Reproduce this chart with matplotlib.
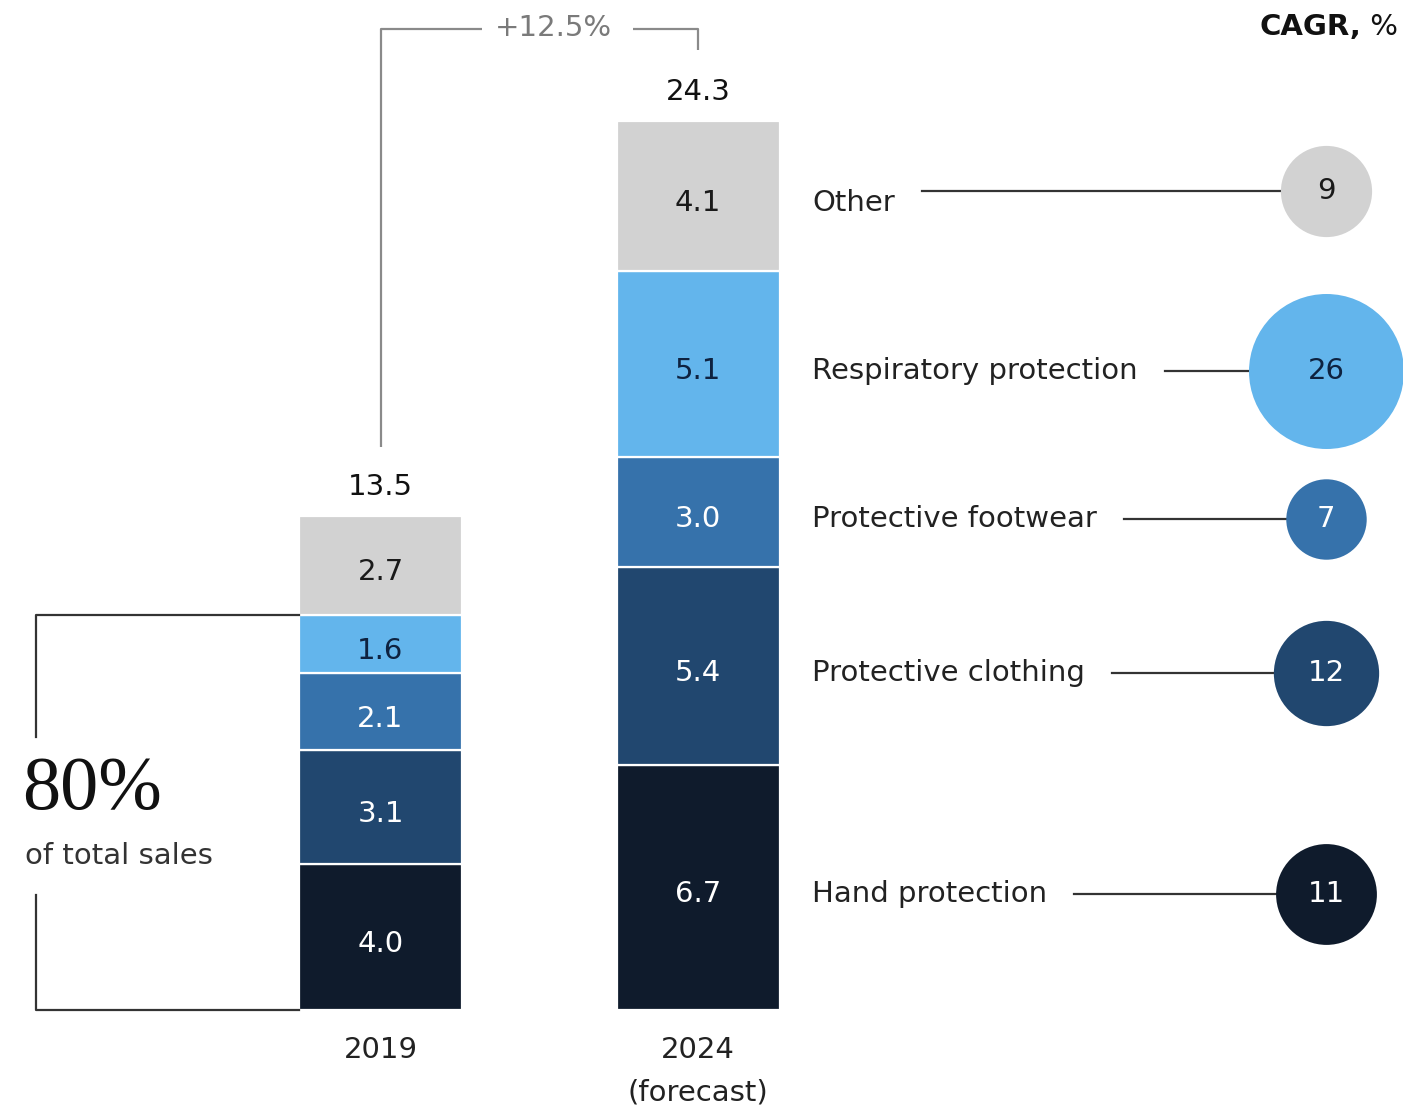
import matplotlib
matplotlib.use("Agg")
import matplotlib.pyplot as plt

# --- data -------------------------------------------------------------
categories = ["Hand protection", "Protective clothing", "Protective footwear",
              "Respiratory protection", "Other"]
year_labels = ["2019", "2024"]
year_notes = ["", "(forecast)"]
sales_2019 = [4.0, 3.1, 2.1, 1.6, 2.7]
sales_2024 = [6.7, 5.4, 3.0, 5.1, 4.1]
totals = [13.5, 24.3]
cagr = [11, 12, 7, 26, 9]
growth_label = "+12.5%"
share_value = "80%"
share_text = "of total sales"
cagr_title = "CAGR,"
cagr_unit = " %"

# --- styling ----------------------------------------------------------
seg_colors = ["#0f1b2c", "#21476f", "#3672ab", "#63b5ec", "#d2d2d2"]
seg_text = ["white", "white", "white", "#0e2240", "#1a1a1a"]
line_dark = "#333333"
line_grey = "#8a8a8a"
FS = 21

plt.rcParams["font.family"] = ["DejaVu Sans"]

W, H = 1403, 1111
fig = plt.figure(figsize=(W / 100, H / 100), dpi=100)
ax = fig.add_axes([0, 0, 1, 1])
ax.set_axis_off()

# vertical scale: value units, baseline at pixel row BASE
BASE = 1010.0
PX = 36.6  # pixels per unit
ax.set_xlim(0, W)
ax.set_ylim((BASE - H) / PX, BASE / PX)


def py(row):
    """pixel row (from top) -> value coordinate"""
    return (BASE - row) / PX


bar_x = [380.5, 698.0]
bar_w = 163
series = [sales_2019, sales_2024]
label_drop = 7 / PX

seg_centers = []
for xi, vals in zip(bar_x, series):
    bottom = 0.0
    centers = []
    for v, c, tc in zip(vals, seg_colors, seg_text):
        ax.bar(xi, v, bottom=bottom, width=bar_w, color=c,
               edgecolor="white", linewidth=1.6, zorder=2)
        ax.text(xi, bottom + v / 2 - label_drop, f"{v:.1f}", ha="center",
                va="center", fontsize=FS, color=tc, zorder=3)
        centers.append(bottom + v / 2)
        bottom += v
    seg_centers.append(centers)

# totals above the bars
for xi, t in zip(bar_x, totals):
    ax.text(xi, t + 29 / PX, f"{t:.1f}", ha="center", va="center",
            fontsize=FS, color="#111111")

# year labels
for xi, yl, note in zip(bar_x, year_labels, year_notes):
    ax.text(xi, py(1050), yl, ha="center", va="center", fontsize=FS,
            color="#222222")
    if note:
        ax.text(xi, py(1092), note, ha="center", va="center", fontsize=FS,
                color="#222222")

# growth bracket across the top
ax.plot([bar_x[0], bar_x[0], 482], [py(447), py(29), py(29)],
        color=line_grey, lw=1.6, solid_capstyle="butt")
ax.plot([633, bar_x[1], bar_x[1]], [py(29), py(29), py(50)],
        color=line_grey, lw=1.6, solid_capstyle="butt")
ax.text(553, py(28), growth_label, ha="center", va="center", fontsize=FS,
        color="#7a7a7a")

# bracket around the four PPE categories of 2019
top_80 = sum(sales_2019[:4])
ax.plot([bar_x[0] - bar_w / 2, 36, 36], [top_80, top_80, py(737)],
        color=line_dark, lw=1.6)
ax.plot([36, 36, bar_x[0] - bar_w / 2], [py(895), 0, 0],
        color=line_dark, lw=1.6)
ax.text(22, py(790), share_value, ha="left", va="center", fontsize=55,
        family=["Liberation Serif", "DejaVu Serif"], color="#111111")
ax.text(25, py(856), share_text, ha="left", va="center", fontsize=FS,
        color="#333333")

# category labels, connectors and CAGR bubbles
label_x = 812
bubble_x = 1326
bubble_shift = [0, 0, 0, 0, -12]  # pixel nudge of the bubble row
fig.canvas.draw()
renderer = fig.canvas.get_renderer()
inv = ax.transData.inverted()
for i, cat in enumerate(categories):
    y_lab = seg_centers[1][i] - label_drop
    t = ax.text(label_x, y_lab, cat, ha="left", va="center", fontsize=FS,
                color="#222222")
    bb = t.get_window_extent(renderer=renderer)
    x_end = inv.transform((bb.x1, 0))[0]
    y_b = y_lab - bubble_shift[i] / PX
    ax.plot([x_end + 27, bubble_x], [y_b, y_b], color=line_dark, lw=1.6,
            zorder=1)
    ax.scatter([bubble_x], [y_b], s=479 * cagr[i], color=seg_colors[i],
               zorder=4, linewidths=0)
    ax.text(bubble_x, y_b, str(cagr[i]), ha="center", va="center",
            fontsize=FS, color=seg_text[i], zorder=5)

# CAGR heading, right aligned
t_unit = ax.text(1398, py(27), cagr_unit, ha="right", va="center",
                 fontsize=FS, color="#111111")
bb = t_unit.get_window_extent(renderer=renderer)
ax.text(inv.transform((bb.x0, 0))[0], py(27), cagr_title, ha="right",
        va="center", fontsize=FS, fontweight="bold", color="#111111")

fig.savefig("out.png", dpi=100, facecolor="white")
